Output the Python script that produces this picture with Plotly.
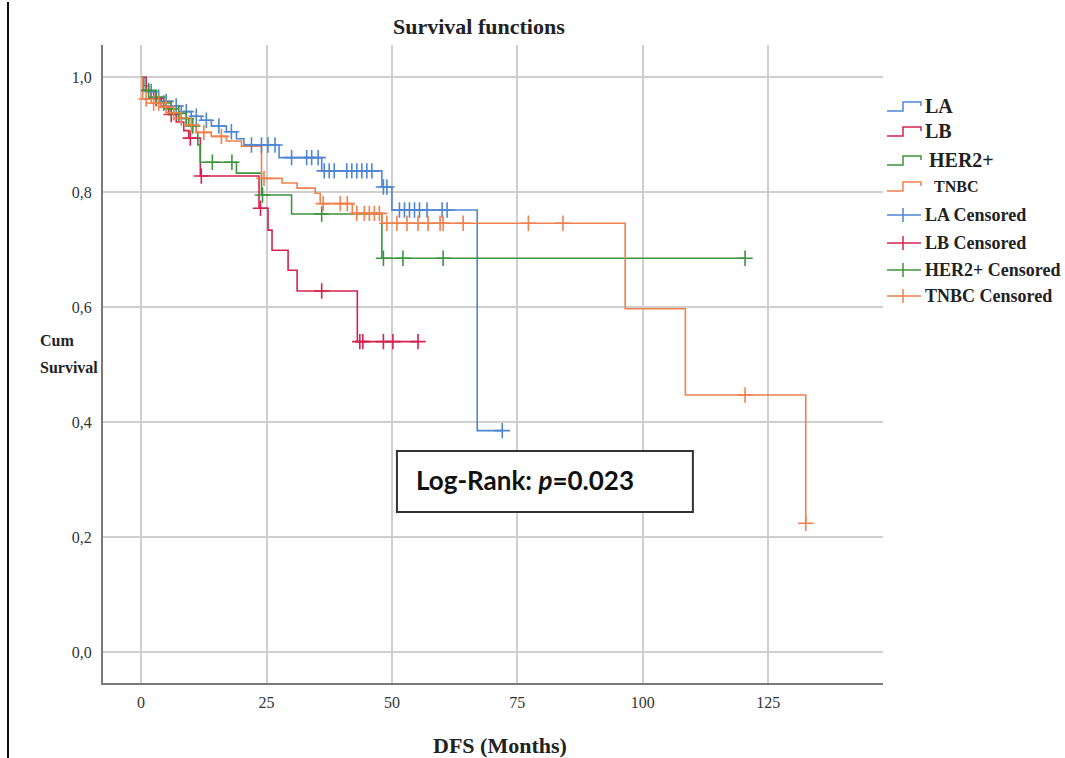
import plotly.graph_objects as go

# ---------------- data ----------------
groups = ["LA", "LB", "HER2+", "TNBC"]

la_times = [0, 0.5, 1.5, 3, 4.5, 6, 8, 10, 12, 14, 17, 19, 20.5, 27.5, 36, 48, 50, 67]
la_surv = [1.0, 0.985, 0.975, 0.965, 0.958, 0.95, 0.94, 0.932, 0.925, 0.915, 0.905, 0.893, 0.882, 0.86, 0.837, 0.809, 0.769, 0.385]
la_cens = [2, 3.5, 5, 7, 9, 11, 13, 15.5, 18, 22, 24, 25.3, 26.7, 30, 33, 34, 35.3,
           36.5, 37.5, 38.5, 41, 42, 43, 44, 45, 46, 48.3, 49, 51.5, 52.5, 53.5, 54.5,
           55.5, 57, 60, 61, 72]

lb_times = [0, 1, 2.5, 4, 5.5, 7, 8.5, 9.5, 11.8, 23.5, 25.3, 26.1, 29.3, 31.1, 43.1]
lb_surv = [1.0, 0.975, 0.963, 0.95, 0.935, 0.922, 0.907, 0.894, 0.828, 0.772, 0.734, 0.699, 0.664, 0.628, 0.54]
lb_cens = [3, 6, 9.8, 12, 23.8, 36, 43.6, 44.2, 48.3, 50.2, 55.2]

her_times = [0, 0.5, 2, 3.5, 5, 6.5, 8, 9.5, 11, 11.3, 11.8, 19, 24, 30, 48]
her_surv = [1.0, 0.977, 0.965, 0.955, 0.945, 0.937, 0.928, 0.915, 0.904, 0.882, 0.852, 0.833, 0.795, 0.762, 0.685]
her_cens = [1.5, 3, 4.5, 6, 7.5, 9, 10.3, 14.2, 18.1, 24.2, 36, 48.3, 52.2, 60.2, 120.4]

tn_times = [0, 0.3, 2, 4, 6, 7.5, 9, 11, 14, 17, 20, 24, 28.1, 31.1, 34.7, 35.7, 42.1, 48, 96.5, 108.5, 132.5]
tn_surv = [1.0, 0.962, 0.955, 0.948, 0.938, 0.929, 0.917, 0.904, 0.897, 0.889, 0.88, 0.824, 0.816, 0.807, 0.798, 0.78, 0.763, 0.746, 0.597, 0.447, 0.224]
tn_cens = [1, 2.5, 3.5, 5, 6.5, 8, 10, 12.5, 16, 24.5, 36.3, 39.7, 41.1, 43, 44.5, 45.5,
           46.5, 47.5, 49, 51, 53, 55.2, 57.2, 59.6, 60.2, 64.2, 77.2, 84.1, 120.4, 132.5]

x_ticks = [0, 25, 50, 75, 100, 125]
y_ticks = [0.0, 0.2, 0.4, 0.6, 0.8, 1.0]
y_tick_text = ["0,0", "0,2", "0,4", "0,6", "0,8", "1,0"]

colors = {"LA": "#4f86d4", "LB": "#d4234f", "HER2+": "#3c953c", "TNBC": "#f0804c"}
series = {
    "LA": (la_times, la_surv, la_cens),
    "LB": (lb_times, lb_surv, lb_cens),
    "HER2+": (her_times, her_surv, her_cens),
    "TNBC": (tn_times, tn_surv, tn_cens),
}


def surv_at(times, surv, t):
    s = surv[0]
    for ti, si in zip(times, surv):
        if ti <= t:
            s = si
    return s


fig = go.Figure()
for g in groups:
    times, surv, cens = series[g]
    end = max(max(cens), times[-1])
    xs = list(times) + [end]
    ys = list(surv) + [surv[-1]]
    fig.add_trace(go.Scatter(x=xs, y=ys, mode="lines", line_shape="hv",
                             line=dict(color=colors[g], width=1.6), name=g,
                             showlegend=False, hoverinfo="skip"))
for g in groups:
    times, surv, cens = series[g]
    fig.add_trace(go.Scatter(x=cens, y=[surv_at(times, surv, t) for t in cens],
                             mode="markers", name=g + " Censored", showlegend=False,
                             marker=dict(symbol="cross-thin", size=11,
                                         line=dict(color=colors[g], width=1.6))))

# ---------------- layout ----------------
L, R, T, B = 103, 883, 45, 683
W, H = 1065, 758


def px(xp, yp):
    return (xp - L) / (R - L), (B - yp) / (B - T)


fig.update_layout(
    width=W, height=H,
    margin=dict(l=L, r=W - R, t=T, b=H - B),
    paper_bgcolor="white", plot_bgcolor="white",
    showlegend=False,
    font=dict(family="Liberation Serif", color="#222"),
)
fig.update_xaxes(range=[-7.6, 147.9], tickvals=x_ticks, showgrid=True,
                 gridcolor="#cfcfcf", gridwidth=1.5, showline=True,
                 linecolor="#7a7a7a", linewidth=2, zeroline=False,
                 ticks="", ticklabelstandoff=4,
                 tickfont=dict(family="Liberation Serif", size=16, color="#333"))
fig.update_yaxes(range=[-0.054, 1.056], tickvals=y_ticks, ticktext=y_tick_text,
                 showgrid=True, gridcolor="#cfcfcf", gridwidth=1.5, showline=True,
                 linecolor="#7a7a7a", linewidth=2, zeroline=False,
                 ticks="", ticklabelstandoff=6,
                 tickfont=dict(family="Liberation Serif", size=16, color="#333"))

annotations = []
shapes = []


def text_at(xp, yp, txt, size, xanchor="left", bold=True, family="Liberation Serif"):
    x, y = px(xp, yp)
    annotations.append(dict(x=x, y=y, xref="paper", yref="paper", text=(f"<b>{txt}</b>" if bold else txt),
                            showarrow=False, xanchor=xanchor, yanchor="middle",
                            font=dict(family=family, size=size, color="#222")))


text_at(479, 27, "Survival functions", 22, xanchor="center")
text_at(500, 745, "DFS (Months)", 22, xanchor="center")
text_at(38, 340, "Cum", 16)
text_at(38, 367, "Survival", 16)

# left border line of the image
x0, y0 = px(8, 2)
x1, y1 = px(8, 758)
shapes.append(dict(type="line", xref="paper", yref="paper", x0=x0, y0=y0, x1=x1, y1=y1,
                   line=dict(color="#111", width=2)))

# Log-rank box
shapes.append(dict(type="rect", xref="x", yref="y", x0=51.0, x1=110.0, y0=0.2435, y1=0.3496,
                   line=dict(color="#333", width=2), fillcolor="white"))
annotations.append(dict(x=54.4, y=0.299, xref="x", yref="y", showarrow=False, xanchor="left",
                        yanchor="middle", text="<b>Log-Rank: <i>p</i>=0.023</b>",
                        font=dict(family="Lato", size=26, color="#111")))

# manual legend
legend_rows = [
    ("LA", "LA", 106, 20, 923, "step"),
    ("LB", "LB", 131, 20, 923, "step"),
    ("HER2+", "HER2+", 160, 20, 927, "step"),
    ("TNBC", "TNBC", 186, 16, 932, "step"),
    ("LA", "LA Censored", 215, 18, 923, "cross"),
    ("LB", "LB Censored", 243, 18, 923, "cross"),
    ("HER2+", "HER2+ Censored", 270, 18, 923, "cross"),
    ("TNBC", "TNBC Censored", 296, 18, 923, "cross"),
]
for g, label, yc, size, xt, kind in legend_rows:
    c = colors[g]
    if kind == "step":
        pts = [(887, yc + 5), (903, yc + 5), (903, yc - 4), (921, yc - 4), (921, yc)]
        path = "M " + " L ".join(f"{px(a, b)[0]:.5f},{px(a, b)[1]:.5f}" for a, b in pts)
        shapes.append(dict(type="path", xref="paper", yref="paper", path=path,
                           line=dict(color=c, width=1.5)))
    else:
        ax0, ay = px(887, yc)
        ax1, _ = px(921, yc)
        shapes.append(dict(type="line", xref="paper", yref="paper", x0=ax0, x1=ax1, y0=ay, y1=ay,
                           line=dict(color=c, width=1.5)))
        cx, cy0 = px(903, yc - 7)
        _, cy1 = px(903, yc + 7)
        shapes.append(dict(type="line", xref="paper", yref="paper", x0=cx, x1=cx, y0=cy0, y1=cy1,
                           line=dict(color=c, width=1.5)))
    text_at(xt, yc, label, size)

fig.update_layout(annotations=annotations, shapes=shapes)
fig.write_html("out.html", config={"displayModeBar": False},
               post_script="document.body.style.margin='0';document.body.style.overflow='hidden';")
